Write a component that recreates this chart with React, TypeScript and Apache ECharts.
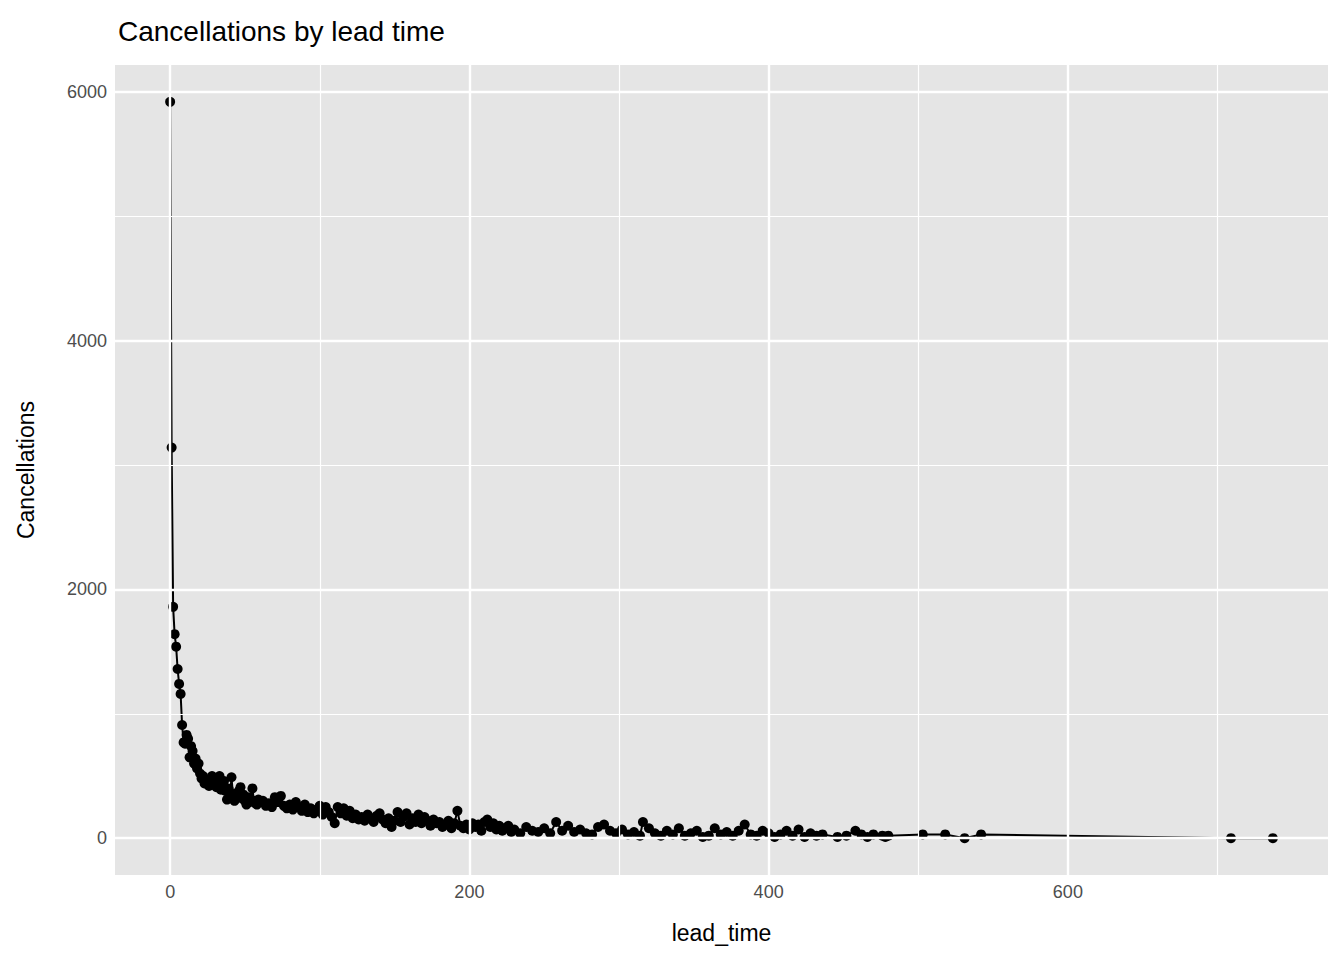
import { useEffect, useRef } from 'react';
import * as echarts from 'echarts';

const leadTime = [
  0, 1, 2, 3, 4, 5, 6, 7, 8, 9, 10, 11, 12, 13, 14, 15, 16, 17, 18, 19, 20, 21, 22, 23, 24, 25, 26, 27, 28, 29,
  30, 31, 32, 33, 34, 35, 36, 37, 38, 39, 40, 41, 42, 43, 44, 45, 46, 47, 48, 49, 50, 51, 52, 53, 54, 55, 56, 57, 58, 59, 60,
  62, 64, 66, 68, 70, 72, 74, 76, 78, 80, 82, 84, 86, 88, 90, 92, 94, 96, 98, 100, 102, 104, 106, 108, 110, 112, 114, 116, 118, 120,
  122, 124, 126, 128, 130, 132, 134, 136, 138, 140, 142, 144, 146, 148, 150, 152, 154, 156, 158, 160, 162, 164, 166, 168, 170,
  172, 174, 176, 178, 180, 182, 184, 186, 188, 190, 192, 194, 196, 198, 200, 202, 204, 206, 208, 210, 212, 214, 216, 218, 220,
  222, 224, 226, 228, 230, 234, 238, 242, 246, 250, 254, 258, 262, 266, 270, 274, 278, 282, 286, 290, 294, 298, 302, 306, 310,
  314, 316, 320, 324, 328, 332, 336, 340, 344, 348, 352, 356, 360, 364, 368, 372, 376, 380, 384, 388, 392, 396, 400, 404, 408,
  412, 416, 420, 424, 428, 432, 436, 446, 452, 458, 462, 466, 470, 476, 478, 480, 503, 518, 531, 542, 709, 737,
];
const cancellations = [
  5920, 3140, 1860, 1640, 1540, 1360, 1240, 1160, 910, 770, 760, 830, 800, 650, 740, 700, 600, 640, 560, 600, 520, 480, 500, 440, 470, 460, 420, 450, 500, 430,
  470, 410, 440, 500, 390, 420, 460, 380, 310, 400, 330, 490, 350, 300, 360, 340, 380, 410, 320, 350, 300, 270, 330, 290, 310, 400, 300, 280, 270, 310, 290,
  300, 260, 280, 250, 330, 290, 340, 260, 240, 270, 230, 290, 250, 220, 270, 210, 240, 200, 230, 260, 190, 250, 210, 170, 120, 250, 200, 240, 180, 220,
  160, 190, 150, 170, 140, 190, 160, 130, 180, 200, 150, 120, 160, 90, 140, 210, 130, 170, 200, 110, 160, 130, 190, 120, 170,
  140, 100, 150, 120, 130, 90, 110, 140, 80, 120, 220, 100, 80, 110, 70, 120, 90, 110, 60, 130, 150, 90, 120, 70, 100,
  60, 80, 100, 50, 70, 40, 90, 60, 50, 80, 40, 130, 60, 100, 50, 70, 40, 30, 90, 110, 60, 40, 70, 30, 50,
  20, 130, 80, 40, 20, 60, 30, 80, 20, 40, 60, 10, 20, 80, 30, 50, 20, 60, 110, 30, 20, 60, 40, 10, 30,
  60, 20, 70, 10, 40, 20, 30, 10, 20, 60, 30, 10, 30, 20, 10, 20, 30, 30, 0, 30, 0, 0,
];
const xTicks = [0, 200, 400, 600];
const xMinor = [100, 300, 500, 700];
const yTicks = [0, 2000, 4000, 6000];
const yMinor = [1000, 3000, 5000];

export default function App() {
  const ref = useRef<HTMLDivElement>(null);

  useEffect(() => {
    if (!ref.current) return;
    document.body.style.margin = '0';
    const chart = echarts.init(ref.current, undefined, { renderer: 'svg' });
    const font = 'Liberation Sans, Arial, sans-serif';
    const gridLines = (vals: number[], key: 'xAxis' | 'yAxis', width: number) =>
      vals.map(v => ({ [key]: v, lineStyle: { color: '#ffffff', width, type: 'solid' } }));

    chart.setOption({
      animation: false,
      textStyle: { fontFamily: font },
      title: {
        text: 'Cancellations by lead time',
        left: 113,
        top: 12,
        textStyle: { fontSize: 28, fontWeight: 'normal', color: '#000' },
      },
      grid: {
        left: 115, right: 16, top: 65, bottom: 85,
        show: true, backgroundColor: '#e5e5e5', borderWidth: 0,
      },
      xAxis: {
        type: 'value',
        min: -36.85,
        max: 773.85,
        name: 'lead_time',
        nameLocation: 'middle',
        nameGap: 46,
        nameTextStyle: { fontSize: 23, color: '#000' },
        axisLine: { show: false },
        axisTick: { show: true, length: 5, lineStyle: { color: '#333' }, customValues: xTicks },
        axisLabel: { fontSize: 18, color: '#4d4d4d', margin: 8, customValues: xTicks, formatter: (v: number) => String(v) },
        splitLine: { show: false },
      },
      yAxis: {
        type: 'value',
        min: -296,
        max: 6216,
        name: 'Cancellations',
        nameLocation: 'middle',
        nameGap: 78,
        nameTextStyle: { fontSize: 23, color: '#000' },
        axisLine: { show: false },
        axisTick: { show: true, length: 5, lineStyle: { color: '#333' }, customValues: yTicks },
        axisLabel: { fontSize: 18, color: '#4d4d4d', margin: 8, customValues: yTicks, formatter: (v: number) => String(v) },
        splitLine: { show: false },
      },
      series: [
        {
          type: 'line',
          data: [],
          z: 1,
          silent: true,
          markLine: {
            silent: true,
            symbol: 'none',
            label: { show: false },
            animation: false,
            data: [
              ...gridLines(xMinor, 'xAxis', 1.2),
              ...gridLines(yMinor, 'yAxis', 1.2),
              ...gridLines(xTicks, 'xAxis', 2.4),
              ...gridLines(yTicks, 'yAxis', 2.4),
            ],
          },
        },
        {
          type: 'line',
          z: 3,
          data: leadTime.map((x, i) => [x, cancellations[i]]),
          symbol: 'circle',
          symbolSize: 10,
          itemStyle: { color: '#000' },
          lineStyle: { color: '#000', width: 2 },
        },
      ],
    });

    return () => chart.dispose();
  }, []);

  return <div ref={ref} style={{ width: 1344, height: 960 }} />;
}
